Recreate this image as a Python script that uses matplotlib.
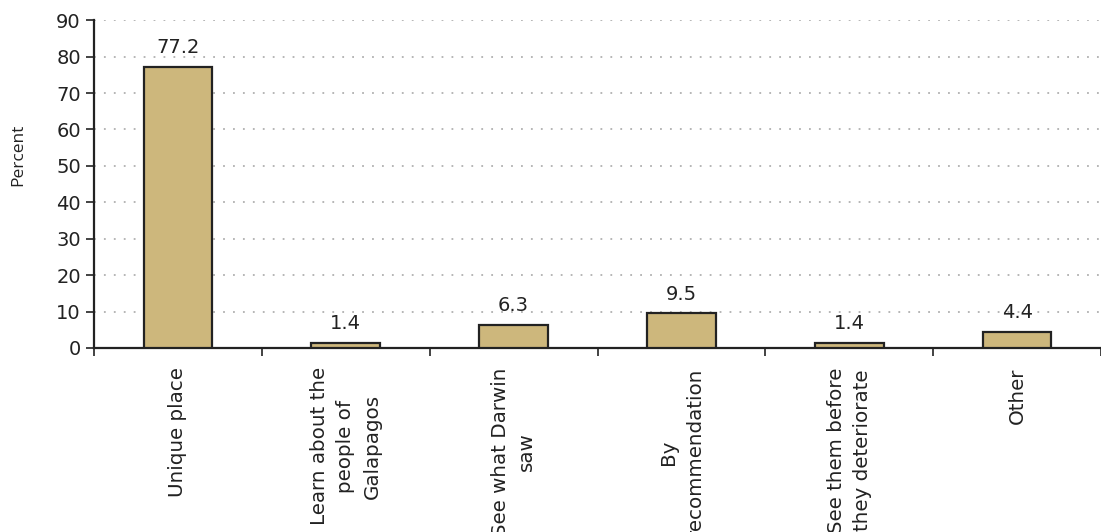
import matplotlib
matplotlib.use('Agg')
import numpy as np
import matplotlib.pyplot as plt

categories = ['Unique place', 'Learn about the\npeople of\nGalapagos',
              'See what Darwin\nsaw', 'By\nrecommendation',
              'See them before\nthey deteriorate', 'Other']
percent = [77.2, 1.4, 6.3, 9.5, 1.4, 4.4]
y_ticks = [0, 10, 20, 30, 40, 50, 60, 70, 80, 90]

plt.rcParams['font.family'] = 'DejaVu Sans'

fig = plt.figure(figsize=(11.01, 5.32), dpi=100)
ax = fig.add_axes([0.0854, 0.346, 0.9146, 0.616])

x = np.arange(len(categories))
ax.bar(x, percent, width=0.41, color='#CDB77C', edgecolor='#222222',
       linewidth=1.6, zorder=3)

for xi, v in zip(x, percent):
    ax.annotate('%.1f' % v, (xi, v), xytext=(0, 7), textcoords='offset points',
                ha='center', va='bottom', fontsize=14, color='#222222')

ax.set_xlim(-0.5, len(categories) - 0.5)
ax.set_ylim(0, 90)
ax.set_yticks(y_ticks)
ax.tick_params(axis='y', labelsize=14, length=6, width=1.2, colors='#222222',
               direction='out')
ax.yaxis.grid(True, linestyle=(0, (1, 4.5)), color='#B0B0B0', linewidth=1.3)
ax.set_axisbelow(True)

# labels at bar centres, tick marks between categories
ax.set_xticks(x)
ax.set_xticklabels(categories, rotation=90, fontsize=14.3, color='#222222',
                   ha='center', va='top', multialignment='center',
                   linespacing=1.5)
ax.tick_params(axis='x', which='major', length=0, pad=14)
ax.set_xticks(np.arange(-0.5, len(categories), 1.0), minor=True)
ax.tick_params(axis='x', which='minor', length=6, width=1.2, color='#222222')

for side in ['top', 'right']:
    ax.spines[side].set_visible(False)
for side in ['left', 'bottom']:
    ax.spines[side].set_color('#222222')
    ax.spines[side].set_linewidth(1.6)

ax.set_ylabel('Percent', fontsize=12.5, color='#222222', family='Open Sans')
ax.yaxis.set_label_coords(-0.067, 0.59)

fig.savefig('out.png', dpi=100)
